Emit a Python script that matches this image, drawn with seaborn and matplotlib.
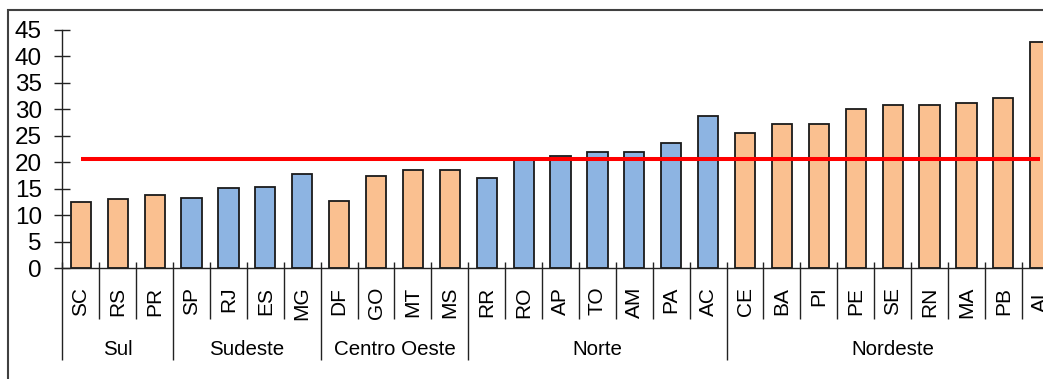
import numpy as np
import pandas as pd
import matplotlib
matplotlib.use("Agg")
import matplotlib.pyplot as plt
from matplotlib.patches import Rectangle
import seaborn as sns

# Rates by state (UF), grouped by region
states = ["SC", "RS", "PR", "SP", "RJ", "ES", "MG", "DF", "GO", "MT", "MS",
          "RR", "RO", "AP", "TO", "AM", "PA", "AC",
          "CE", "BA", "PI", "PE", "SE", "RN", "MA", "PB", "AL"]
rates = [12.6, 13.1, 13.8, 13.3, 15.1, 15.3, 17.9, 12.8, 17.4, 18.6, 18.6,
         17.1, 20.5, 21.2, 21.9, 21.9, 23.7, 28.8,
         25.5, 27.3, 27.3, 30.1, 30.8, 30.8, 31.3, 32.1, 42.7]
regions = ["Sul", "Sudeste", "Centro Oeste", "Norte", "Nordeste"]
region_sizes = [3, 4, 4, 7, 9]
brazil_rate = 20.7
yticks = [0, 5, 10, 15, 20, 25, 30, 35, 40, 45]

ORANGE = "#FAC090"
BLUE = "#8DB4E2"
region_colors = {"Sul": ORANGE, "Sudeste": BLUE, "Centro Oeste": ORANGE,
                 "Norte": BLUE, "Nordeste": ORANGE}

plt.rcParams["font.family"] = ["Liberation Sans", "DejaVu Sans"]

df = pd.DataFrame({"UF": states, "taxa": rates,
                   "regiao": np.repeat(regions, region_sizes)})

W, H = 1043, 379
fig = plt.figure(figsize=(W / 100, H / 100), dpi=100)
ax = fig.add_axes([62.4 / W, 110.7 / H, 996.3 / W, 238.3 / H])

sns.barplot(data=df, x="UF", y="taxa", hue="regiao", palette=region_colors,
            dodge=False, width=0.55, saturation=1, edgecolor="#1a1a1a",
            linewidth=1.3, legend=False, ax=ax, zorder=2)

n = len(states)
ax.plot(np.arange(n), [brazil_rate] * n, color="#FF0000", lw=2.9,
        solid_capstyle="butt", zorder=5)

ax.set_xlim(-0.5, n - 0.5)
ax.set_ylim(0, 45)
ax.set_yticks(yticks)
ax.set_xlabel("")
ax.set_ylabel("")
for s in ["top", "right"]:
    ax.spines[s].set_visible(False)
for s in ["left", "bottom"]:
    ax.spines[s].set_color("#222222")
    ax.spines[s].set_linewidth(1.0)

ax.tick_params(axis="y", direction="inout", length=11.5, width=1,
               color="#222222", pad=9, labelsize=17.5)
ax.tick_params(axis="x", length=0, pad=13.2, labelsize=15, labelrotation=90)

# Category separators below the baseline, longer ones between regions
trans = ax.get_xaxis_transform()
edges = np.concatenate([[0], np.cumsum(region_sizes)])
group_bounds = edges - 0.5
all_bounds = np.arange(n + 1) - 0.5
inner_bounds = [b for b in all_bounds if b not in set(group_bounds)]
ax.vlines(inner_bounds, -0.214, 0.027, transform=trans, colors="#222222",
          lw=1, clip_on=False)
ax.vlines(group_bounds, -0.385, 0.027, transform=trans, colors="#222222",
          lw=1, clip_on=False)

for name, a, b in zip(regions, edges[:-1], edges[1:]):
    ax.text((a + b - 1) / 2, -0.364, name, transform=trans, ha="center",
            va="baseline", fontsize=14.8)

# Chart area border
fig.add_artist(Rectangle((8 / W, -0.5), 2, 0.5 + 1 - 10 / H,
                         transform=fig.transFigure, fill=False,
                         ec="#404040", lw=1.5))

fig.savefig("out.png", dpi=100)
